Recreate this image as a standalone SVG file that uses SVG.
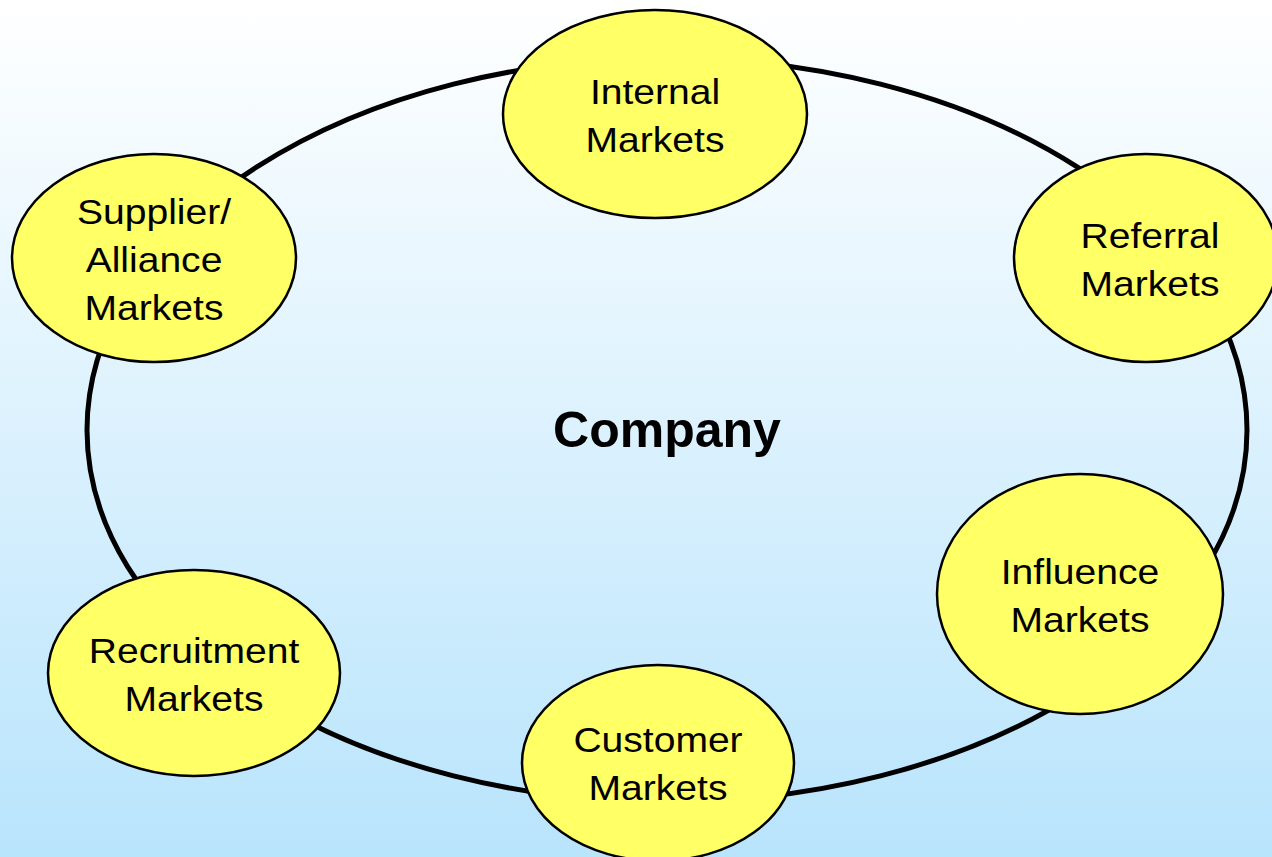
<svg xmlns="http://www.w3.org/2000/svg" width="1272" height="857" viewBox="0 0 1272 857">
  <defs>
    <linearGradient id="bg" x1="0" y1="0" x2="0" y2="1">
      <stop offset="0" stop-color="#ffffff"/>
      <stop offset="1" stop-color="#b8e4fc"/>
    </linearGradient>
    <style>
      .ring { fill: none; stroke: #000; stroke-width: 5; }
      .node { fill: #ffff66; stroke: #000; stroke-width: 2.5; }
      .label { font-family: "Liberation Sans", Arial, sans-serif; font-size: 36px; fill: #000; text-anchor: middle; }
      .center { font-family: "Liberation Sans", Arial, sans-serif; font-size: 50px; font-weight: bold; fill: #000; text-anchor: middle; }
    </style>
  </defs>

  <rect x="0" y="0" width="1272" height="857" fill="url(#bg)"/>

  <!-- ring joining the markets -->
  <g id="connectors">
    <ellipse class="ring" cx="667" cy="430" rx="580" ry="372"/>
  </g>

  <text class="center" x="667" y="447">Company</text>

  <g id="internal">
    <ellipse class="node" cx="655" cy="114" rx="152" ry="104"/>
    <g transform="matrix(1.085 0 0 1 655 0)">
      <text class="label" x="0" y="104">Internal</text>
      <text class="label" x="0" y="152">Markets</text>
    </g>
  </g>

  <g id="supplier">
    <ellipse class="node" cx="154" cy="258" rx="142" ry="104"/>
    <g transform="matrix(1.085 0 0 1 154 0)">
      <text class="label" x="0" y="224">Supplier/</text>
      <text class="label" x="0" y="272">Alliance</text>
      <text class="label" x="0" y="320">Markets</text>
    </g>
  </g>

  <g id="referral">
    <ellipse class="node" cx="1146" cy="258" rx="132" ry="104"/>
    <g transform="matrix(1.085 0 0 1 1150 0)">
      <text class="label" x="0" y="248">Referral</text>
      <text class="label" x="0" y="296">Markets</text>
    </g>
  </g>

  <g id="influence">
    <ellipse class="node" cx="1080" cy="594" rx="143" ry="120"/>
    <g transform="matrix(1.085 0 0 1 1080 0)">
      <text class="label" x="0" y="584">Influence</text>
      <text class="label" x="0" y="632">Markets</text>
    </g>
  </g>

  <g id="customer">
    <ellipse class="node" cx="658" cy="763" rx="136" ry="98"/>
    <g transform="matrix(1.085 0 0 1 658 0)">
      <text class="label" x="0" y="752">Customer</text>
      <text class="label" x="0" y="800">Markets</text>
    </g>
  </g>

  <g id="recruitment">
    <ellipse class="node" cx="194" cy="673" rx="146" ry="103"/>
    <g transform="matrix(1.085 0 0 1 194 0)">
      <text class="label" x="0" y="663">Recruitment</text>
      <text class="label" x="0" y="711">Markets</text>
    </g>
  </g>
</svg>
